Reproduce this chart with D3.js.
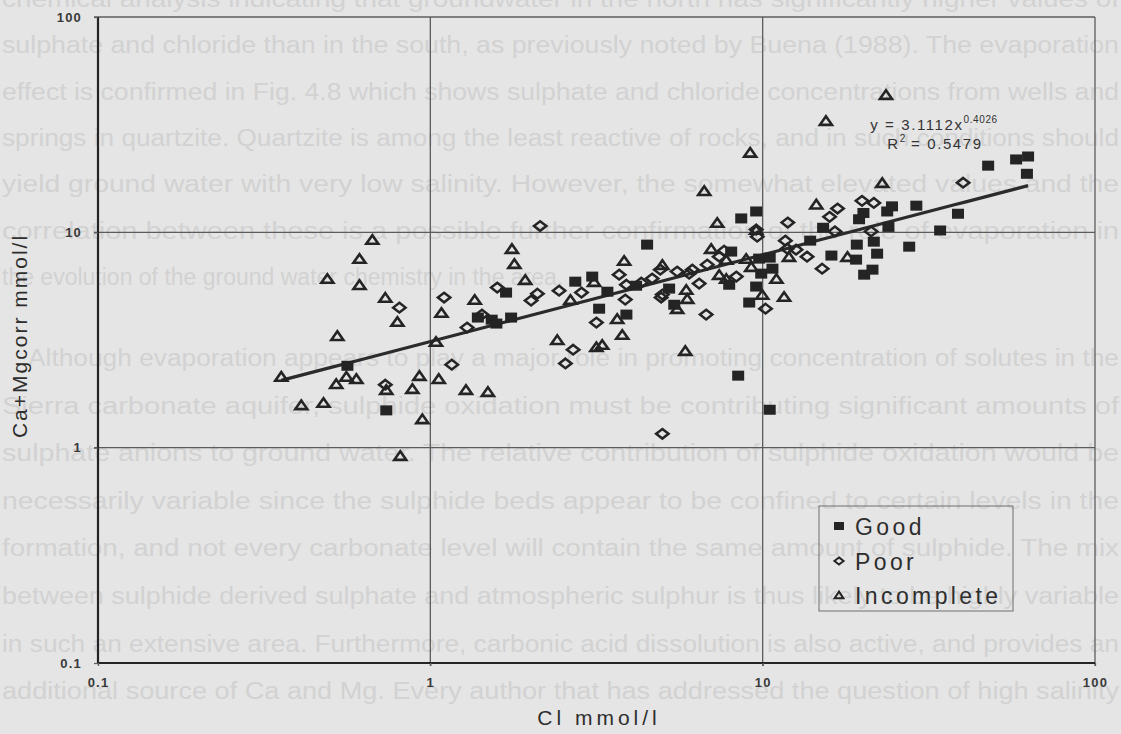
<!DOCTYPE html>
<html>
<head>
<meta charset="utf-8">
<script src="https://cdn.jsdelivr.net/npm/d3@7"></script>
<style>
  html, body { margin: 0; padding: 0; background: #e5e5e5; }
  svg { display: block; }
</style>
</head>
<body>
<svg id="chart" width="1121" height="734"></svg>
<script>
// ---- data -------------------------------------------------------------
const clTicks = [0.1, 1, 10, 100];
const caMgTicks = [0.1, 1, 10, 100];
const seriesNames = ["Good", "Poor", "Incomplete"];

// Good analyses: Cl (mmol/l) and Ca+Mg corrected (mmol/l)
const goodCl = [0.563, 0.737, 1.39, 1.53, 1.58, 1.75, 1.69, 2.73, 3.07, 3.41,
  3.22, 3.89, 4.16, 4.49, 5.23, 5.42, 8.04, 7.93, 8.62, 9.56,
  9.76, 10.5, 10.7, 9.90, 9.56, 9.11, 8.44, 10.5, 13.9, 15.2,
  16.1, 19.2, 21.6, 19.5, 20.1, 23.7, 24.5, 29.0, 38.7, 23.9,
  34.2, 27.6, 22.1, 19.1, 21.4, 20.2, 47.7, 57.9, 62.9, 62.4];
const goodCaMg = [2.40, 1.49, 4.02, 3.93, 3.77, 4.02, 5.25, 5.90, 6.23, 5.30,
  4.42, 4.15, 5.65, 8.77, 5.48, 4.61, 8.14, 5.71, 11.6, 12.5,
  7.55, 7.63, 6.78, 6.43, 5.60, 4.72, 2.16, 1.50, 9.15, 10.5,
  7.80, 8.77, 9.05, 11.5, 12.3, 12.5, 13.2, 13.3, 12.2, 10.6,
  10.2, 8.58, 7.96, 7.47, 6.71, 6.36, 20.4, 21.8, 22.5, 18.7];

// Poor analyses
const poorCl = [0.732, 0.807, 1.10, 1.16, 1.29, 1.43, 1.59, 2.01, 2.10, 2.14,
  2.44, 2.55, 2.69, 2.85, 3.16, 3.70, 3.89, 3.86, 4.31, 4.65,
  4.92, 4.95, 4.99, 4.99, 5.53, 6.14, 6.44, 6.76, 6.81, 7.40,
  7.66, 8.33, 9.56, 9.63, 10.2, 11.7, 11.9, 11.85, 12.6, 13.6,
  15.1, 15.9, 16.8, 16.5, 19.9, 21.6, 21.2, 40.1, 6.01];
const poorCaMg = [1.96, 4.47, 4.98, 2.43, 3.61, 4.15, 5.54, 4.82, 5.19, 10.7,
  5.36, 2.46, 2.85, 5.25, 3.81, 6.36, 5.71, 4.87, 5.84, 6.10,
  6.71, 4.98, 1.16, 5.14, 6.57, 6.71, 5.78, 4.15, 7.08, 7.71,
  8.22, 6.23, 10.3, 9.55, 4.42, 9.15, 11.1, 8.40, 8.31, 7.71,
  6.78, 11.8, 12.9, 10.1, 14.0, 13.7, 10.1, 17.0, 6.43];

// Incomplete analyses
const incCl = [0.356, 0.409, 0.477, 0.521, 0.559, 0.599, 0.525, 0.490, 0.612, 0.612,
  0.669, 0.732, 0.737, 0.796, 0.812, 0.883, 0.927, 0.946, 1.04, 1.06,
  1.08, 1.28, 1.49, 1.36, 1.76, 1.79, 1.93, 2.41, 2.64, 3.11,
  3.16, 3.29, 3.65, 3.78, 3.83, 4.99, 5.85, 5.89, 5.93, 5.53,
  6.67, 7.00, 7.30, 7.40, 7.77, 7.77, 8.92, 9.24, 9.17, 9.56,
  9.97, 11.0, 11.6, 12.0, 14.5, 15.5, 18.0, 22.9, 23.5];
const incCaMg = [2.14, 1.58, 1.62, 1.98, 2.14, 2.09, 3.31, 6.10, 7.55, 5.71,
  9.25, 4.98, 1.86, 3.85, 0.918, 1.88, 2.16, 1.36, 3.11, 2.09,
  4.24, 1.86, 1.82, 4.87, 8.40, 7.15, 6.03, 3.17, 4.87, 5.90,
  2.94, 3.01, 3.97, 3.35, 7.39, 7.08, 2.82, 5.42, 4.92, 4.42,
  15.6, 8.40, 11.1, 6.36, 7.47, 6.10, 7.55, 6.93, 23.5, 10.3,
  5.14, 6.10, 5.03, 7.71, 13.5, 33.0, 7.71, 17.0, 43.6];

// Power-law trend fitted to all samples: y = a * x^b
const fitA = 3.1112;
const fitB = 0.4026;
const fitR2 = 0.5479;

// Text of the printed page that shows through the paper
const pageParagraph1 = [
  "chemical analysis indicating that groundwater in the north has significantly higher values of",
  "sulphate and chloride than in the south, as previously noted by Buena (1988).  The evaporation",
  "effect is confirmed in Fig. 4.8 which shows sulphate and chloride concentrations from wells and",
  "springs in quartzite. Quartzite is among the least reactive of rocks, and in such conditions should",
  "yield ground water with very low salinity. However, the somewhat elevated values and the",
  "correlation between these is a possible further confirmation of the role of evaporation in",
  "the evolution of the ground water chemistry in the area."
];
const pageParagraph2 = [
  "Although evaporation appears to play a major role in promoting concentration of solutes in the",
  "Sierra carbonate aquifer, sulphide oxidation must be contributing significant amounts of",
  "sulphate anions to ground water. The relative contribution of sulphide oxidation would be",
  "necessarily variable since the sulphide beds appear to be confined to certain levels in the",
  "formation, and not every carbonate level will contain the same amount of sulphide. The mix",
  "between sulphide derived sulphate and atmospheric sulphur is thus likely to be highly variable",
  "in such an extensive area. Furthermore, carbonic acid dissolution is also active, and provides an",
  "additional source of Ca and Mg. Every author that has addressed the question of high salinity"
];

// ---- layout -----------------------------------------------------------
const W = 1121, H = 734;
const plot = { left: 98, right: 1095, top: 17, bottom: 663 };
const ink = "#242424";
const gridInk = "#5c5c5c";
const font = "'Liberation Sans', Arial, Helvetica, sans-serif";

const svg = d3.select("#chart");
svg.append("rect").attr("width", W).attr("height", H).attr("fill", "#e5e5e5");

// faint show-through text of the facing page
const ghost = svg.append("g")
  .attr("font-family", font).attr("font-size", 23).attr("fill", "#d2d2d2");
const pageLeft = 2, pageRight = 1119;
pageParagraph1.forEach((t, i) => {
  const el = ghost.append("text").attr("x", pageLeft).attr("y", 7 + i * 46.3).text(t);
  if (i < pageParagraph1.length - 1) {
    el.attr("textLength", pageRight - pageLeft).attr("lengthAdjust", "spacingAndGlyphs");
  }
});
pageParagraph2.forEach((t, i) => {
  const x0 = i === 0 ? 28 : pageLeft;
  ghost.append("text").attr("x", x0).attr("y", 366 + i * 47.6).text(t)
    .attr("textLength", pageRight - x0).attr("lengthAdjust", "spacingAndGlyphs");
});

// ---- scales -----------------------------------------------------------
const x = d3.scaleLog().domain([0.1, 100]).range([plot.left, plot.right]);
const y = d3.scaleLog().domain([0.1, 100]).range([plot.bottom, plot.top]);

// gridlines at each decade (the 100 lines close the frame)
const grid = svg.append("g").attr("stroke", gridInk).attr("stroke-width", 1.3);
clTicks.filter(v => v > 0.1).forEach(v => {
  grid.append("line").attr("x1", x(v)).attr("x2", x(v))
    .attr("y1", plot.top).attr("y2", plot.bottom + 3);
});
caMgTicks.filter(v => v > 0.1).forEach(v => {
  grid.append("line").attr("y1", y(v)).attr("y2", y(v))
    .attr("x1", plot.left - 4).attr("x2", plot.right);
});

// axes
const fmt = d => String(d);
const gx = svg.append("g").attr("transform", `translate(0,${plot.bottom})`)
  .call(d3.axisBottom(x).tickValues(clTicks).tickFormat(fmt).tickSize(3).tickPadding(12));
const gy = svg.append("g").attr("transform", `translate(${plot.left},0)`)
  .call(d3.axisLeft(y).tickValues(caMgTicks).tickFormat(fmt).tickSize(4).tickPadding(12));
[gx, gy].forEach(g => {
  g.select(".domain").attr("stroke", ink).attr("stroke-width", 2.2);
  g.selectAll(".tick line").attr("stroke", gridInk).attr("stroke-width", 1.3);
  g.selectAll(".tick text")
    .attr("font-family", font).attr("font-size", 13).attr("font-weight", "bold")
    .attr("fill", "#3a3a3a").attr("letter-spacing", 1.2);
});
gx.select(".domain").attr("d", `M${plot.left},0H${plot.right}`);
gy.select(".domain").attr("d", `M0,${plot.bottom}V${plot.top}`);

// axis titles
svg.append("text").attr("x", 599).attr("y", 725)
  .attr("text-anchor", "middle").attr("font-family", font).attr("font-size", 21)
  .attr("letter-spacing", 4).attr("fill", "#2e2e2e").text("Cl mmol/l");
svg.append("text").attr("transform", "translate(27,336) rotate(-90)")
  .attr("text-anchor", "middle").attr("font-family", font).attr("font-size", 21)
  .attr("letter-spacing", 2).attr("fill", "#2e2e2e").text("Ca+Mgcorr mmol/l");

// ---- trend line ---------------------------------------------------------
const allCl = goodCl.concat(poorCl, incCl);
const [clMin, clMax] = d3.extent(allCl);
const fitPts = d3.range(0, 61).map(i => {
  const v = clMin * Math.pow(clMax / clMin, i / 60);
  return [v, fitA * Math.pow(v, fitB)];
});
svg.append("path")
  .attr("d", d3.line().x(d => x(d[0])).y(d => y(d[1]))(fitPts))
  .attr("fill", "none").attr("stroke", "#2b2b2b").attr("stroke-width", 3.2);

// ---- markers ----------------------------------------------------------
const markers = svg.append("g");
const zip = (a, b) => a.map((v, i) => [v, b[i]]);

// Poor: hollow diamonds
markers.append("g").selectAll("path").data(zip(poorCl, poorCaMg)).join("path")
  .attr("transform", d => `translate(${x(d[0])},${y(d[1])})`)
  .attr("d", "M0,-4.8L6.2,0L0,4.8L-6.2,0Z")
  .attr("fill", "none").attr("stroke", ink).attr("stroke-width", 2.5);

// Incomplete: hollow triangles
markers.append("g").selectAll("path").data(zip(incCl, incCaMg)).join("path")
  .attr("transform", d => `translate(${x(d[0])},${y(d[1])})`)
  .attr("d", "M0,-4.4L6,4.2L-6,4.2Z")
  .attr("fill", "none").attr("stroke", ink).attr("stroke-width", 2.6)
  .attr("stroke-linejoin", "miter");

// Good: filled squares
markers.append("g").selectAll("rect").data(zip(goodCl, goodCaMg)).join("rect")
  .attr("x", d => x(d[0]) - 6).attr("y", d => y(d[1]) - 5)
  .attr("width", 12).attr("height", 10).attr("fill", ink);

// ---- fit equation -----------------------------------------------------
const eq = svg.append("g").attr("font-family", font).attr("fill", "#333");
const eq1 = eq.append("text").attr("x", 934).attr("y", 130)
  .attr("text-anchor", "middle").attr("font-size", 15);
eq1.append("tspan").attr("letter-spacing", 1.6).text(`y = ${fitA.toFixed(4)}x`);
eq1.append("tspan").attr("font-size", 10).attr("dy", -7).attr("letter-spacing", 0.6)
  .text(fitB.toFixed(4));
const eq2 = eq.append("text").attr("x", 935).attr("y", 149)
  .attr("text-anchor", "middle").attr("font-size", 15);
eq2.append("tspan").attr("letter-spacing", 1.6).text("R");
eq2.append("tspan").attr("font-size", 10).attr("dy", -7).text("2");
eq2.append("tspan").attr("dy", 7).attr("letter-spacing", 1.6).text(` = ${fitR2.toFixed(4)}`);

// ---- legend -----------------------------------------------------------
const lg = svg.append("g");
lg.append("rect").attr("x", 819).attr("y", 506).attr("width", 194).attr("height", 105)
  .attr("fill", "none").attr("stroke", "#6e6e6e").attr("stroke-width", 1);
const legendRowY = [526, 561, 595];
seriesNames.forEach((name, i) => {
  const cy = legendRowY[i], cx = 839;
  if (name === "Good") {
    lg.append("rect").attr("x", cx - 5).attr("y", cy - 4).attr("width", 10).attr("height", 8).attr("fill", ink);
  } else if (name === "Poor") {
    lg.append("path").attr("transform", `translate(${cx},${cy})`).attr("d", "M0,-3.6L4.6,0L0,3.6L-4.6,0Z")
      .attr("fill", "none").attr("stroke", ink).attr("stroke-width", 2);
  } else {
    lg.append("path").attr("transform", `translate(${cx},${cy})`).attr("d", "M0,-3.4L4.4,3.2L-4.4,3.2Z")
      .attr("fill", "none").attr("stroke", ink).attr("stroke-width", 2);
  }
  lg.append("text").attr("x", 855).attr("y", cy + 8.5)
    .attr("font-family", font).attr("font-size", 23).attr("letter-spacing", 3.4)
    .attr("fill", "#2e2e2e").text(name);
});
</script>
</body>
</html>
